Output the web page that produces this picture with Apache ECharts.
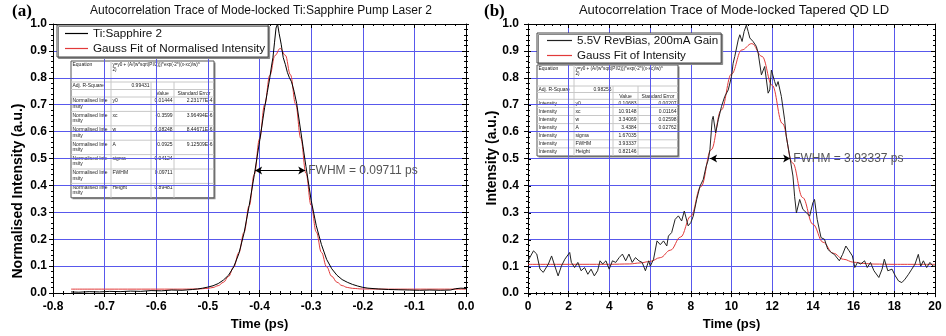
<!DOCTYPE html>
<html><head><meta charset="utf-8">
<script src="https://cdn.jsdelivr.net/npm/echarts@6/dist/echarts.min.js"></script>
<style>html,body{margin:0;padding:0;background:#fff}#c{width:946px;height:336px}</style>
</head><body><div id="c"></div>
<script>
// ---------- DATA ----------
const panelATitle = 'Autocorrelation Trace of Mode-locked Ti:Sapphire Pump Laser 2';
const panelBTitle = 'Autocorrelation Trace of Mode-locked Tapered QD LD';
const seriesNamesA = ['Ti:Sapphire 2', 'Gauss Fit of Normalised Intensity'];
const seriesNamesB = ['5.5V RevBias, 200mA Gain', 'Gauss Fit of Intensity'];
const xRangeA = [-0.8, 0, 0.1];
const xRangeB = [0, 20, 2];
const yRange = [0, 1, 0.1];

const tiTrace = [[-0.765,0.004],[-0.75,0.003],[-0.73,0.005],[-0.71,0.004],[-0.69,0.006],[-0.67,0.005],[-0.65,0.007],[-0.63,0.006],[-0.61,0.009],[-0.59,0.008],[-0.57,0.011],[-0.55,0.010],[-0.53,0.013],[-0.52,0.015],[-0.51,0.018],[-0.50,0.022],[-0.49,0.027],[-0.48,0.035],[-0.47,0.048],[-0.46,0.066],[-0.45,0.097],[-0.44,0.146],[-0.43,0.222],[-0.42,0.325],[-0.41,0.44],[-0.40,0.562],[-0.39,0.69],[-0.385,0.745],[-0.38,0.80],[-0.377,0.84],[-0.374,0.875],[-0.371,0.93],[-0.368,0.985],[-0.365,1.0],[-0.362,0.965],[-0.358,0.925],[-0.354,0.875],[-0.35,0.85],[-0.346,0.82],[-0.342,0.80],[-0.338,0.785],[-0.333,0.75],[-0.328,0.705],[-0.32,0.60],[-0.31,0.47],[-0.30,0.345],[-0.29,0.25],[-0.28,0.18],[-0.27,0.125],[-0.26,0.09],[-0.25,0.066],[-0.24,0.05],[-0.23,0.04],[-0.22,0.032],[-0.21,0.026],[-0.20,0.021],[-0.19,0.018],[-0.17,0.015],[-0.15,0.013],[-0.13,0.012],[-0.11,0.011],[-0.09,0.010],[-0.07,0.011],[-0.05,0.010],[-0.03,0.011],[-0.02,0.016],[-0.01,0.018],[0.0,0.017]];

const tiFit = [[-0.765,0.0144],[-0.55,0.0144],[-0.52,0.0149],[-0.50,0.0172],[-0.49,0.0206],[-0.48,0.0273],[-0.47,0.0397],[-0.46,0.0615],[-0.45,0.0966],[-0.44,0.150],[-0.43,0.2254],[-0.42,0.324],[-0.41,0.442],[-0.40,0.572],[-0.39,0.700],[-0.38,0.809],[-0.37,0.883],[-0.36,0.909],[-0.35,0.884],[-0.34,0.811],[-0.33,0.702],[-0.32,0.575],[-0.31,0.445],[-0.30,0.326],[-0.29,0.227],[-0.28,0.151],[-0.27,0.0975],[-0.26,0.062],[-0.25,0.0401],[-0.24,0.0275],[-0.23,0.0207],[-0.22,0.0172],[-0.20,0.0149],[-0.15,0.0144],[0,0.0144]];

const qdTrace = [[0.0,0.12],[0.07,0.12],[0.27,0.157],[0.43,0.145],[0.59,0.089],[0.75,0.077],[1.0,0.108],[1.16,0.138],[1.32,0.10],[1.48,0.064],[1.64,0.10],[1.81,0.126],[2.05,0.151],[2.13,0.114],[2.29,0.095],[2.45,0.114],[2.61,0.083],[2.78,0.095],[2.94,0.07],[3.1,0.089],[3.26,0.064],[3.42,0.083],[3.54,0.12],[3.67,0.108],[3.83,0.12],[3.99,0.089],[4.15,0.12],[4.31,0.114],[4.48,0.132],[4.64,0.145],[4.8,0.12],[4.96,0.145],[5.12,0.114],[5.28,0.132],[5.45,0.12],[5.61,0.114],[5.77,0.083],[5.93,0.12],[6.01,0.10],[6.17,0.126],[6.34,0.194],[6.5,0.18],[6.66,0.194],[6.82,0.175],[6.9,0.212],[7.06,0.225],[7.23,0.274],[7.39,0.287],[7.55,0.268],[7.68,0.305],[7.87,0.25],[8.0,0.262],[8.12,0.286],[8.29,0.348],[8.45,0.397],[8.61,0.422],[8.75,0.47],[8.86,0.496],[8.94,0.533],[9.05,0.644],[9.1,0.657],[9.22,0.595],[9.35,0.644],[9.51,0.694],[9.67,0.731],[9.84,0.755],[10.0,0.805],[10.08,0.854],[10.16,0.879],[10.33,0.941],[10.41,0.96],[10.52,0.935],[10.62,0.972],[10.73,0.996],[10.82,0.972],[10.9,0.948],[11.06,0.935],[11.22,0.917],[11.31,0.892],[11.47,0.811],[11.63,0.842],[11.8,0.743],[11.88,0.755],[11.96,0.829],[12.12,0.786],[12.2,0.768],[12.29,0.786],[12.45,0.731],[12.61,0.644],[12.69,0.583],[12.86,0.509],[13.02,0.435],[13.1,0.36],[13.19,0.298],[13.35,0.348],[13.51,0.311],[13.68,0.299],[13.84,0.286],[14.0,0.336],[14.08,0.348],[14.21,0.274],[14.4,0.206],[14.57,0.2],[14.73,0.163],[14.9,0.151],[15.05,0.144],[15.3,0.12],[15.46,0.144],[15.62,0.175],[15.78,0.157],[15.94,0.138],[16.06,0.095],[16.19,0.114],[16.35,0.108],[16.54,0.12],[16.67,0.095],[16.83,0.114],[17.0,0.083],[17.24,0.058],[17.4,0.089],[17.51,0.126],[17.68,0.083],[17.89,0.089],[18.05,0.064],[18.21,0.045],[18.37,0.039],[18.53,0.052],[18.7,0.07],[18.86,0.089],[19.02,0.108],[19.18,0.144],[19.3,0.10],[19.43,0.12],[19.59,0.095],[19.75,0.114],[19.91,0.10],[20.0,0.10]];

const qdFit = [[0,0.1068],[4,0.1070],[5,0.1084],[5.5,0.1120],[6,0.1177],[6.5,0.1318],[7,0.1595],[7.5,0.2084],[8,0.286],[8.5,0.3957],[9,0.5327],[9.5,0.6807],[10,0.8139],[10.5,0.9033],[11,0.9272],[11.5,0.8794],[12,0.772],[12.5,0.6304],[13,0.4837],[13.5,0.3548],[14,0.256],[14.5,0.1889],[15,0.1481],[15.5,0.1258],[16,0.1148],[16.5,0.1101],[17,0.1079],[18,0.1069],[20,0.1068]];

// FWHM annotations: [start, end, level, label]
const fwhmA = [-0.4085, -0.3114, 0.455, 'FWHM = 0.09711 ps'];
const fwhmB = [8.948, 12.881, 0.5, 'FWHM = 3.93337 ps'];

// fit-report tables
const paramNames = ['y0','xc','w','A','sigma','FWHM','Height'];
const tableA = { adjR: '0.99431', rowLabel: 'Normalised Inte\nnsity',
  values: ['0.01444','-0.3599','0.08248','0.0925','0.04124','0.09711','0.89481'],
  errors: ['2.23177E-4','3.96494E-6','8.44671E-6','9.12509E-6','','',''] };
const tableB = { adjR: '0.98256', rowLabel: 'Intensity',
  values: ['0.10683','10.9148','3.34069','3.4384','1.67035','3.93337','0.82146'],
  errors: ['0.00207','0.01164','0.02598','0.02762','','',''] };
const equationText = 'y=y0 + (A/(w*sqrt(PI/2)))*exp(-2*((x-xc)/w)^\n2)';

// ---------- STYLE / LAYOUT ----------
const FONT = '"Liberation Sans", Arial, sans-serif';
const GRIDC = '#5858ec';
const fmt1 = v => v.toFixed(1);

function mainX(g, r, fmt) {
  return [
    {gridIndex:g, type:'value', min:r[0], max:r[1], interval:r[2], position:'bottom',
     axisLine:{show:true,onZero:false,lineStyle:{color:'#000',width:1}},
     axisTick:{show:true,inside:false,length:4,lineStyle:{color:'#000'}},
     minorTick:{show:true,splitNumber:5,length:2,lineStyle:{color:'#000'}},
     axisLabel:{show:true,margin:8,color:'#000',fontSize:12,fontWeight:'bold',fontFamily:FONT,formatter:fmt,showMinLabel:true,showMaxLabel:true},
     splitLine:{show:true,lineStyle:{color:GRIDC,width:1}},
     name:'Time (ps)',nameLocation:'middle',nameGap:22,
     nameTextStyle:{fontSize:13,fontWeight:'bold',color:'#000',fontFamily:FONT}},
    {gridIndex:g, type:'value', min:r[0], max:r[1], interval:r[2], position:'top',
     axisLine:{show:true,onZero:false,lineStyle:{color:'#000',width:1}},
     axisTick:{show:true,inside:true,length:4,lineStyle:{color:'#000'}},
     minorTick:{show:true,splitNumber:5,length:2,lineStyle:{color:'#000'}},
     axisLabel:{show:false}, splitLine:{show:false}}
  ];
}
function mainY(g, margin) {
  return [
    {gridIndex:g, type:'value', min:yRange[0], max:yRange[1], interval:yRange[2], position:'left',
     axisLine:{show:true,onZero:false,lineStyle:{color:'#000',width:1}},
     axisTick:{show:true,inside:false,length:4,lineStyle:{color:'#000'}},
     minorTick:{show:true,splitNumber:5,length:2,lineStyle:{color:'#000'}},
     axisLabel:{show:true,margin:margin,color:'#000',fontSize:12,fontWeight:'bold',fontFamily:FONT,formatter:fmt1},
     splitLine:{show:true,lineStyle:{color:GRIDC,width:1}}},
    {gridIndex:g, type:'value', min:yRange[0], max:yRange[1], interval:yRange[2], position:'right',
     axisLine:{show:true,onZero:false,lineStyle:{color:'#000',width:1}},
     axisTick:{show:true,inside:true,length:4,lineStyle:{color:'#000'}},
     minorTick:{show:true,splitNumber:5,length:2,lineStyle:{color:'#000'}},
     axisLabel:{show:false}, splitLine:{show:false}}
  ];
}
function overlayX(g, r) {
  return {gridIndex:g, type:'value', min:r[0], max:r[1], interval:r[2], position:'bottom',
    axisLine:{show:false}, axisTick:{show:true,inside:true,length:3,lineStyle:{color:'#000'}},
    minorTick:{show:true,splitNumber:5,length:2,lineStyle:{color:'#000'}},
    axisLabel:{show:false}, splitLine:{show:false}};
}
function overlayY(g) {
  return {gridIndex:g, type:'value', min:yRange[0], max:yRange[1], interval:yRange[2], position:'left',
    axisLine:{show:false}, axisTick:{show:true,inside:true,length:3,lineStyle:{color:'#000'}},
    minorTick:{show:true,splitNumber:5,length:2,lineStyle:{color:'#000'}},
    axisLabel:{show:false}, splitLine:{show:false}};
}

function buildTable(t, colX, rowY, fs) {
  const els = [];
  const x0 = colX[0], x1 = colX[colX.length-1], y0 = rowY[0], y1 = rowY[rowY.length-1];
  const k = fs / 10; // draw text at 10px and scale down
  els.push({type:'rect', shape:{x:x0+1.5,y:y0+1.5,width:x1-x0,height:y1-y0}, style:{fill:'#8a8a8a'}});
  els.push({type:'rect', shape:{x:x0,y:y0,width:x1-x0,height:y1-y0}, style:{fill:'#fff',stroke:'#555',lineWidth:1}});
  for (let i = 1; i < rowY.length-1; i++) {
    els.push({type:'line', shape:{x1:x0,y1:rowY[i],x2:x1,y2:rowY[i]}, style:{stroke:'#c8c8c8',lineWidth:1}});
  }
  for (let j = 1; j < colX.length-1; j++) {
    els.push({type:'line', shape:{x1:colX[j],y1:(j===1?y0:rowY[1]),x2:colX[j],y2:y1}, style:{stroke:'#c8c8c8',lineWidth:1}});
  }
  const txt = (s, c, r, align, size) => {
    const x = align==='right' ? colX[c+1]-1.5 : align==='center' ? (colX[c]+colX[c+1])/2 : colX[c]+1.5;
    els.push({type:'text', x:x, y:rowY[r]+1.2, scaleX:k*(size||1), scaleY:k*(size||1),
      style:{text:s, fill:'#222', fontSize:10, fontFamily:FONT, align:align, verticalAlign:'top', lineHeight:11}});
  };
  txt('Equation',0,0,'left');
  txt(equationText,1,0,'left',0.92);
  txt('Adj. R-Square',0,1,'left');
  txt(t.adjR,1,1,'right');
  txt('Value',2,2,'center');
  txt('Standard Error',3,2,'center');
  for (let i = 0; i < paramNames.length; i++) {
    txt(t.rowLabel,0,3+i,'left');
    txt(paramNames[i],1,3+i,'left');
    txt(t.values[i],2,3+i,'right');
    if (t.errors[i]) txt(t.errors[i],3,3+i,'right');
  }
  return {type:'group', z:100, children:els};
}

function fwhmLine(f) {
  return {silent:true, symbol:['arrow','arrow'], symbolSize:[6,7], animation:false,
    lineStyle:{color:'#000',type:'solid',width:1},
    label:{show:true,position:'end',formatter:f[3],color:'#555',fontSize:12,fontFamily:FONT,distance:3},
    data:[[{coord:[f[0],f[2]]},{coord:[f[1],f[2]]}]]};
}

const chart = echarts.init(document.getElementById('c'), null, {renderer:'canvas'});
chart.setOption({
  animation:false,
  backgroundColor:'#fff',
  grid:[
    {left:53,top:24,width:413,height:269},
    {left:528,top:24,width:407,height:270},
    {left:53,top:24,width:413,height:269},
    {left:528,top:24,width:407,height:270}
  ],
  xAxis:[...mainX(0,xRangeA,fmt1), ...mainX(1,xRangeB,v=>String(v)), overlayX(2,xRangeA), overlayX(3,xRangeB)],
  yAxis:[...mainY(0,6), ...mainY(1,9), overlayY(2), overlayY(3)],
  legend:[
    {left:57,top:25,orient:'vertical',padding:[2,3,2,8],itemGap:2,itemWidth:23,itemHeight:1.2,icon:'rect',
     backgroundColor:'#fff',borderColor:'#444',borderWidth:1,selectedMode:false,
     shadowColor:'#888',shadowOffsetX:1.5,shadowOffsetY:1.5,shadowBlur:0,
     textStyle:{fontSize:11.7,lineHeight:13,fontFamily:FONT,color:'#111'},data:seriesNamesA},
    {left:537,top:33,orient:'vertical',padding:[1,3,1,10],itemGap:2,itemWidth:25,itemHeight:1.2,icon:'rect',
     backgroundColor:'#fff',borderColor:'#444',borderWidth:1,selectedMode:false,
     shadowColor:'#888',shadowOffsetX:1.5,shadowOffsetY:1.5,shadowBlur:0,
     textStyle:{fontSize:11.6,lineHeight:13,fontFamily:FONT,color:'#111'},data:seriesNamesB}
  ],
  series:[
    {name:seriesNamesA[0],type:'line',xAxisIndex:0,yAxisIndex:0,data:tiTrace,symbol:'none',
     lineStyle:{color:'#000',width:1},itemStyle:{color:'#000'},z:3,markLine:fwhmLine(fwhmA)},
    {name:seriesNamesA[1],type:'line',xAxisIndex:0,yAxisIndex:0,data:tiFit,symbol:'none',smooth:0.4,smoothMonotone:'x',
     lineStyle:{color:'#e23a3a',width:1},itemStyle:{color:'#e23a3a'},z:2},
    {name:seriesNamesB[0],type:'line',xAxisIndex:2,yAxisIndex:2,data:qdTrace,symbol:'none',
     lineStyle:{color:'#222',width:1},itemStyle:{color:'#222'},z:3,markLine:fwhmLine(fwhmB)},
    {name:seriesNamesB[1],type:'line',xAxisIndex:2,yAxisIndex:2,data:qdFit,symbol:'none',smooth:0.4,smoothMonotone:'x',
     lineStyle:{color:'#e23a3a',width:1},itemStyle:{color:'#e23a3a'},z:2}
  ],
  graphic:[
    {type:'text',x:12,y:3,style:{text:'(a)',font:'bold 17px "Liberation Serif", "Times New Roman", serif',fill:'#000'}},
    {type:'text',x:261,y:5,style:{text:panelATitle,font:'12px '+FONT,fill:'#111',align:'center'}},
    {type:'text',x:484,y:3,style:{text:'(b)',font:'bold 17px "Liberation Serif", "Times New Roman", serif',fill:'#000'}},
    {type:'text',x:734,y:4,style:{text:panelBTitle,font:'13px '+FONT,fill:'#111',align:'center'}},
    {type:'text',x:18,y:191,rotation:Math.PI/2,style:{text:'Normalised Intensity (a.u.)',font:'bold 14px '+FONT,fill:'#000',align:'center',verticalAlign:'middle'}},
    {type:'text',x:492,y:158,rotation:Math.PI/2,style:{text:'Intensity (a.u.)',font:'bold 14px '+FONT,fill:'#000',align:'center',verticalAlign:'middle'}},
    buildTable(tableA,[71,111,151,174,214],[61,82,89.5,97,111.4,125.8,140.2,154.6,169,183.4,197.8],5),
    buildTable(tableB,[537,574,613,638,678],[65,86,92.5,99.3,107.4,115.5,123.6,131.7,139.8,147.9,156],5)
  ]
});
</script></body></html>
